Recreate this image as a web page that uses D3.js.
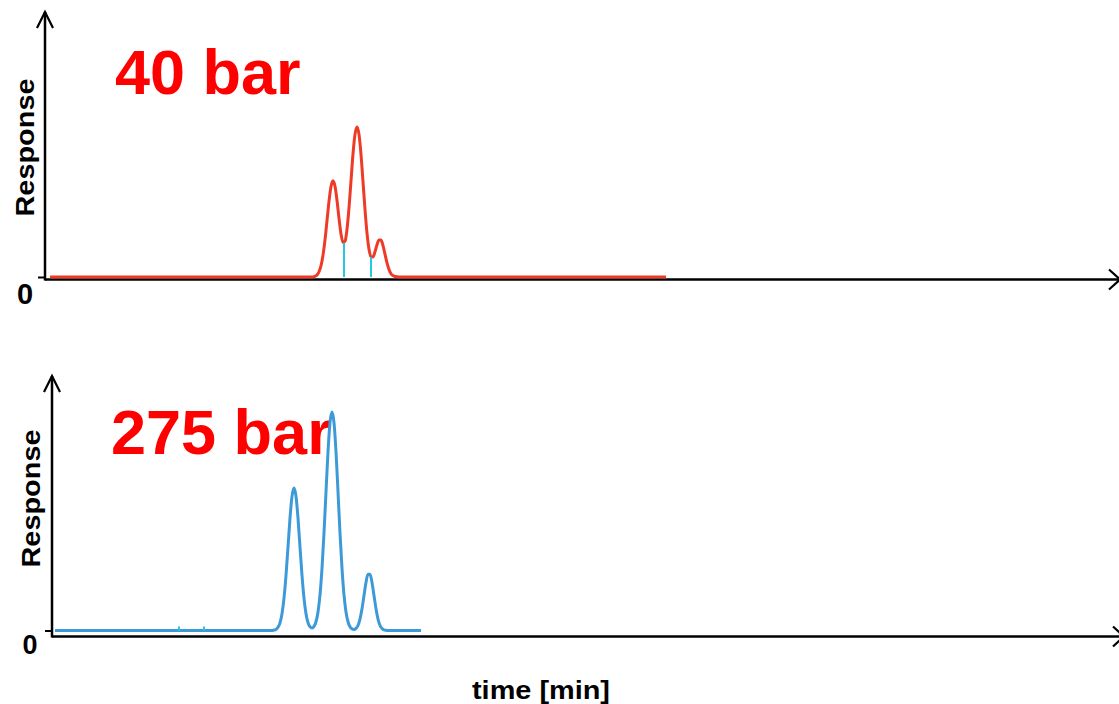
<!DOCTYPE html>
<html>
<head>
<meta charset="utf-8">
<script src="https://cdn.jsdelivr.net/npm/d3@7"></script>
<style>
  body { margin: 0; background: #fff; }
  svg { display: block; }
  text { font-family: "Liberation Sans", Arial, sans-serif; font-weight: bold; }
</style>
</head>
<body>
<div id="chart"></div>
<script>
// chromatogram at 40 bar (time in min, response in % of highest peak)
const time40 = [0.125, 6.70, 6.75, 6.80, 6.85, 6.90, 6.95, 7.00, 7.05, 7.10, 7.15, 7.20, 7.25, 7.30, 7.35, 7.40,
  7.45, 7.50, 7.55, 7.60, 7.65, 7.70, 7.75, 7.80, 7.85, 7.90, 7.95, 8.00, 8.05, 8.10, 8.15, 8.20, 8.25,
  8.30, 8.35, 8.40, 8.45, 8.50, 8.55, 8.60, 8.65, 8.70, 8.75, 8.80, 8.85, 15.525];
const resp40 = [0, 0, 0.5, 1.4, 3.5, 7.5, 14.5, 24.7, 37.5, 50.4, 60.3, 64.1, 60.5, 51.1, 39.2, 28.7,
  23.0, 23.8, 31.8, 46.1, 64.1, 82.0, 95.1, 100, 95.1, 81.8, 63.6, 45.0, 29.2, 18.5, 13.4, 13.4, 16.9,
  21.5, 24.7, 24.6, 20.9, 15.2, 9.4, 5.0, 2.2, 0.9, 0.3, 0.1, 0, 0];
// integration cuts (drop lines) at 40 bar
const cutTime40 = [7.475, 8.15];
const cutResp40 = [22.8, 13.4];

// chromatogram at 275 bar
const time275 = [0.075, 5.50, 5.55, 5.60, 5.65, 5.70, 5.75, 5.80, 5.85, 5.90, 5.95, 6.00, 6.05, 6.10, 6.15,
  6.20, 6.25, 6.30, 6.35, 6.40, 6.45, 6.50, 6.55, 6.60, 6.65, 6.70, 6.75, 6.80, 6.85, 6.90, 6.95, 7.00,
  7.05, 7.10, 7.15, 7.20, 7.25, 7.30, 7.35, 7.40, 7.45, 7.50, 7.55, 7.60, 7.65, 7.70, 7.75, 7.80, 7.85,
  7.90, 7.95, 8.00, 8.05, 8.10, 8.15, 8.20, 8.25, 8.30, 8.35, 8.40, 9.225];
const resp275 = [0, 0, 0.2, 0.5, 1.5, 3.5, 7.7, 14.8, 25.2, 38.2, 51.4, 61.4, 65.2, 61.4, 51.4,
  38.2, 25.2, 14.8, 7.7, 3.6, 1.7, 1.2, 1.9, 4.0, 8.5, 16.3, 28.4, 44.7, 63.5, 81.8, 95.1, 100,
  95.1, 81.8, 63.5, 44.7, 28.4, 16.3, 8.5, 4.0, 1.7, 0.7, 0.5, 1.0, 2.3, 5.2, 9.9, 16.0, 22.0,
  25.8, 25.8, 22.0, 16.0, 9.9, 5.2, 2.3, 0.9, 0.3, 0.1, 0, 0];
const cutTime275 = [3.175, 3.8];
const cutResp275 = [1.8, 1.8];

const yTicks = [0];
const labels = ["40 bar", "275 bar"];

const width = 1119, height = 704;

const svg = d3.select("#chart").append("svg")
  .attr("width", width)
  .attr("height", height);

const panels = [
  { time: time40, resp: resp40, cutT: cutTime40, cutR: cutResp40, color: "#ee3a26", label: labels[0],
    x0: 45, tMax: 26.85, y0: 277, yTop: 127, axisY: 279.5, arrowTop: 12, arrowX: 1120, arrowW: 11, arrowH: 10,
    labelX: 115, labelY: 94, zeroX: 25, zeroY: 303, zeroSize: 29, respX: 34, respY: 147.5 },
  { time: time275, resp: resp275, cutT: cutTime275, cutR: cutResp275, color: "#3d9ad9", label: labels[1],
    x0: 52, tMax: 26.675, y0: 630.5, yTop: 412, axisY: 636.5, arrowTop: 376, arrowX: 1124, arrowW: 11, arrowH: 10,
    labelX: 111, labelY: 454, zeroX: 30, zeroY: 653, zeroSize: 27, respX: 40, respY: 498.5 }
];

panels.forEach(p => {
  const x = d3.scaleLinear().domain([0, p.tMax]).range([p.x0, width]);
  const y = d3.scaleLinear().domain([0, 100]).range([p.y0, p.yTop]);
  const g = svg.append("g");

  // big pressure label (under the trace)
  g.append("text")
    .attr("x", p.labelX)
    .attr("y", p.labelY)
    .attr("fill", "#ff0000")
    .attr("font-size", 63)
    .text(p.label);

  // axis lines
  g.append("line")
    .attr("x1", p.x0).attr("x2", p.x0)
    .attr("y1", p.axisY + 1).attr("y2", p.arrowTop)
    .attr("stroke", "#000").attr("stroke-width", 2.5);
  g.append("line")
    .attr("x1", p.x0).attr("x2", p.arrowX)
    .attr("y1", p.axisY).attr("y2", p.axisY)
    .attr("stroke", "#000").attr("stroke-width", 2.5);

  // arrow heads
  g.append("path")
    .attr("d", `M${p.x0 - 8},${p.arrowTop + 16}L${p.x0},${p.arrowTop}L${p.x0 + 8},${p.arrowTop + 16}`)
    .attr("fill", "none").attr("stroke", "#000").attr("stroke-width", 2.2);
  g.append("path")
    .attr("d", `M${p.arrowX - p.arrowW},${p.axisY - p.arrowH}L${p.arrowX},${p.axisY}L${p.arrowX - p.arrowW},${p.axisY + p.arrowH}`)
    .attr("fill", "none").attr("stroke", "#000").attr("stroke-width", 2.2);

  // zero tick
  const yAxis = d3.axisLeft(y).tickValues(yTicks).tickSize(7).tickFormat(d3.format("d"));
  const ax = g.append("g")
    .attr("transform", `translate(${p.x0},0)`)
    .call(yAxis);
  ax.select(".domain").remove();
  ax.selectAll(".tick line").attr("stroke", "#000").attr("stroke-width", 2);
  ax.selectAll(".tick text")
    .attr("x", p.zeroX - p.x0)
    .attr("dy", null)
    .attr("y", p.zeroY - p.y0)
    .attr("text-anchor", "middle")
    .attr("font-size", p.zeroSize)
    .attr("font-family", "Liberation Sans, Arial, sans-serif")
    .attr("fill", "#000");

  // Response label
  g.append("text")
    .attr("transform", `translate(${p.respX},${p.respY}) rotate(-90)`)
    .attr("text-anchor", "middle")
    .attr("font-size", 26)
    .attr("textLength", 138)
    .attr("lengthAdjust", "spacingAndGlyphs")
    .text("Response");

  // integration drop lines
  g.selectAll(".cut")
    .data(p.cutT)
    .join("line")
    .attr("class", "cut")
    .attr("x1", d => x(d)).attr("x2", d => x(d))
    .attr("y1", y(0)).attr("y2", (d, i) => y(p.cutR[i]))
    .attr("stroke", "#27c6e3").attr("stroke-width", 2);

  // trace
  const pts = p.time.map((t, i) => [t, p.resp[i]]);
  const line = d3.line()
    .x(d => x(d[0]))
    .y(d => y(d[1]))
    .curve(d3.curveMonotoneX);
  g.append("path")
    .datum(pts)
    .attr("d", line)
    .attr("fill", "none")
    .attr("stroke", p.color)
    .attr("stroke-width", 3)
    .attr("stroke-linejoin", "round");

  g.selectAll(".cut").raise();
});

svg.append("text")
  .attr("x", 541)
  .attr("y", 699)
  .attr("text-anchor", "middle")
  .attr("font-size", 25)
  .attr("textLength", 138)
  .attr("lengthAdjust", "spacingAndGlyphs")
  .text("time [min]");
</script>
</body>
</html>
